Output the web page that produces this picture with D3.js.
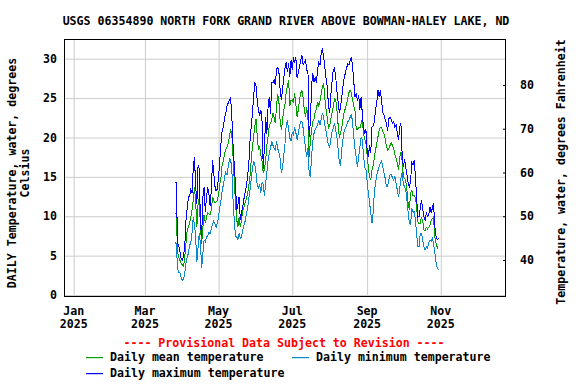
<!DOCTYPE html>
<html>
<head>
<meta charset="utf-8">
<script src="https://cdn.jsdelivr.net/npm/d3@7"></script>
<style>
  body { margin: 0; background: #fff; }
  text { font-family: "DejaVu Sans Mono", monospace; font-weight: bold; font-size: 11.6px; fill: #000; }
</style>
</head>
<body>
<svg id="chart" width="576" height="384"></svg>
<script>
var title = "USGS 06354890 NORTH FORK GRAND RIVER ABOVE BOWMAN-HALEY LAKE, ND";
var leftTitle = ["DAILY Temperature, water, degrees", "Celsius"];
var rightTitle = "Temperature, water, degrees Fahrenheit";
var notice = "---- Provisional Data Subject to Revision ----";

// first day of the daily record, one value per day after that
var startDate = "2025-03-26";

var meanTemp = [
  10.3, 10.4, 5.5, 4.8, 4.4, 4.0, 3.8, 3.6, 4.8, 6.6,
  8.2, 8.7, 9.1, 9.9, 10.8, 12.0, 13.7, 12.0, 8.6, 11.5,
  12.4, 8.5, 6.5, 8.6, 10.2, 9.1, 9.9, 10.4, 10.3, 10.2,
  10.8, 12.4, 12.0, 11.7, 11.8, 12.0,
  12.8, 14.0, 15.0, 16.6, 17.1, 18.0, 18.5, 18.8, 19.3, 20.1,
  21.0, 20.3, 17.5, 14.5, 11.8, 9.6, 8.6, 9.9, 8.6, 9.6,
  10.8, 11.1, 11.7, 12.2, 12.9, 13.8, 15.0, 17.0, 18.8, 20.0,
  21.5, 22.3, 20.2, 18.4, 18.8, 17.8, 17.0,
  15.5, 16.0, 17.1, 19.0, 20.1, 21.5, 21.8, 22.2, 23.1, 22.6, 21.8, 24.0,
  25.5, 24.4, 22.0, 21.0, 22.2, 23.5, 24.2, 25.8, 26.6, 27.3, 24.0, 24.7, 24.8, 24.4, 25.6,
  24.2, 22.6, 23.5, 24.7, 25.6, 26.0, 25.0, 23.5, 22.6, 23.8, 22.6,
  17.5, 19.5, 21.0, 22.0, 22.3, 23.3, 23.6, 24.5, 24.0, 24.6,
  25.6, 26.4, 26.9, 25.0, 23.6, 22.5, 21.2, 21.5, 22.4, 23.1,
  24.0, 24.9, 24.8, 23.5, 21.6, 20.0, 20.6, 21.2, 22.3, 23.2,
  23.7, 24.3, 25.0, 25.7, 26.0, 25.6, 24.7, 24.0, 23.3,
  21.0, 21.0, 21.3, 21.2, 21.8, 22.3, 20.5, 19.8, 19.3, 17.8,
  16.2, 15.0, 14.6, 15.9, 16.4, 17.5, 18.4, 19.3, 20.1, 21.0,
  21.3, 21.2, 20.8, 20.4, 19.8, 18.8, 18.4, 18.6, 19.0, 19.3,
  19.0, 18.6, 17.8, 17.3, 16.8, 15.9, 17.5, 18.2,
  17.0, 15.0, 14.8, 14.5, 13.3, 11.5, 10.8, 12.9, 13.3, 12.6,
  12.6, 12.3, 11.2, 9.3, 9.0, 9.1, 9.9, 9.4, 8.3, 8.1,
  8.6, 8.4, 8.6, 8.9, 9.4, 9.7, 9.9, 7.4, 6.6, 6.1, 5.8
];

var minTemp = [
  6.7, 6.5, 3.5, 2.8, 2.8, 2.2, 1.9, 2.0, 2.8, 4.0,
  4.8, 5.3, 6.3, 6.6, 7.9, 9.9, 9.0, 7.4, 4.2, 6.1,
  7.9, 6.5, 3.4, 5.3, 7.0, 6.8, 7.4, 7.5, 8.0, 7.8,
  8.4, 9.0, 9.4, 9.0, 8.6, 9.2,
  9.9, 11.2, 12.0, 13.3, 14.0, 15.0, 15.6, 15.2, 16.3, 17.3,
  17.2, 15.9, 12.0, 9.5, 7.4, 7.4, 7.0, 7.8, 7.2, 7.4,
  8.3, 8.8, 9.4, 10.2, 11.0, 12.2, 13.3, 14.6, 16.0, 17.0,
  16.5, 15.5, 14.0, 13.6, 14.0, 13.0, 14.3,
  14.0, 12.6, 14.2, 15.6, 17.1, 18.0, 18.6, 19.5, 19.0, 18.6, 18.4, 19.5,
  18.6, 18.0, 17.3, 15.5, 16.2, 17.8, 19.2, 21.6, 22.2, 21.0, 19.9, 19.6, 20.6, 20.3, 21.3,
  20.6, 19.7, 20.5, 21.5, 22.0, 22.0, 21.2, 19.9, 18.6, 17.5, 18.6,
  15.5, 15.0, 17.5, 19.5, 20.5, 21.0, 21.3, 21.6, 22.2, 21.6,
  22.4, 23.1, 22.5, 21.5, 20.8, 19.8, 19.0, 18.8, 19.8, 20.8,
  21.2, 21.8, 21.0, 20.0, 18.5, 16.8, 16.5, 18.5, 19.8, 20.8,
  21.2, 21.5, 22.0, 22.2, 22.6, 23.0, 21.8, 20.0, 18.5,
  17.5, 16.2, 17.6, 18.8, 20.0, 19.7, 17.8, 16.2, 16.0, 14.5,
  13.0, 11.8, 10.4, 9.1, 10.5, 13.0, 14.3, 15.2, 15.8, 16.4,
  16.8, 17.0, 16.2, 15.5, 14.8, 13.8, 13.8, 14.7, 15.3, 15.3,
  14.9, 14.6, 15.0, 14.2, 13.3, 12.4, 13.5, 14.8,
  15.5, 14.0, 13.8, 13.3, 12.0, 10.4, 9.1, 9.0, 11.0, 10.5,
  10.6, 9.5, 7.8, 6.2, 6.2, 7.8, 7.8, 7.0, 6.2, 5.7,
  6.1, 5.9, 6.6, 7.0, 6.8, 7.2, 6.5, 5.5, 4.2, 3.5, 3.2
];

var maxTemp = [
  14.2, 14.3, 6.6, 6.3, 5.5, 4.6, 4.4, 5.0, 6.2, 9.5,
  11.0, 12.4, 12.6, 13.4, 13.0, 16.0, 17.5, 14.0, 11.5, 16.5,
  16.0, 9.0, 7.5, 12.4, 13.7, 10.5, 12.5, 13.7, 12.8, 11.3,
  13.3, 17.1, 15.5, 13.8, 13.2, 13.5,
  15.0, 17.1, 19.3, 21.0, 21.3, 22.6, 23.1, 24.0, 24.4, 24.8,
  25.0, 22.5, 19.0, 16.5, 14.0, 10.8, 11.5, 12.5, 9.5, 10.5,
  11.2, 12.2, 13.0, 13.8, 15.0, 16.5, 19.5, 21.3, 23.0, 25.1,
  27.0, 26.5, 24.7, 23.5, 22.8, 23.5, 22.0,
  16.0, 19.0, 22.6, 20.5, 23.9, 25.1, 23.0, 27.0, 26.9, 27.3, 26.7, 28.7,
  28.9, 28.2, 26.0, 24.7, 26.2, 27.5, 28.8, 29.6, 28.3, 29.4, 27.7, 29.8, 28.6, 30.2, 29.5,
  30.2, 27.5, 28.2, 29.0, 29.8, 30.5, 29.2, 29.5, 29.8, 28.5, 28.5,
  20.0, 22.0, 26.5, 28.2, 27.0, 27.7, 26.9, 28.6, 29.5, 29.2,
  30.7, 31.3, 30.2, 28.9, 27.5, 26.5, 24.0, 23.1, 25.5, 27.2,
  28.6, 28.8, 27.7, 25.8, 24.5, 23.1, 23.9, 25.1, 26.5, 27.5,
  28.2, 28.8, 29.4, 29.2, 29.8, 30.2, 29.0, 27.0, 25.1,
  25.6, 24.7, 25.4, 23.5, 25.1, 23.1, 21.3, 20.5, 21.0, 18.4,
  17.5, 19.0, 18.0, 21.3, 21.5, 22.0, 23.5, 24.5, 26.0, 25.1,
  26.0, 24.5, 23.2, 22.8, 22.2, 21.8, 20.8, 22.4, 22.6, 22.3,
  21.8, 22.0, 21.3, 21.6, 20.6, 19.7, 21.3, 21.8,
  17.8, 16.2, 17.2, 16.2, 15.3, 14.2, 13.6, 14.5, 16.8, 16.5,
  17.1, 15.0, 12.4, 9.9, 10.0, 11.0, 12.0, 11.0, 9.9, 9.5,
  10.4, 10.0, 10.2, 11.2, 10.5, 11.0, 11.7, 8.8, 7.5, 7.0, 7.2
];

var celsiusTicks = [0, 5, 10, 15, 20, 25, 30];
var fahrenheitTicks = [40, 50, 60, 70, 80];
var monthTicks = ["2025-01-01", "2025-03-01", "2025-05-01", "2025-07-01", "2025-09-01", "2025-11-01"];
var monthLabels = ["Jan", "Mar", "May", "Jul", "Sep", "Nov"];

var series = [
  {name: "Daily mean temperature", values: meanTemp, color: "#00a000"},
  {name: "Daily minimum temperature", values: minTemp, color: "#0a88cc"},
  {name: "Daily maximum temperature", values: maxTemp, color: "#0000ff"}
];

var svg = d3.select("#chart");
var plot = {left: 64, right: 506, top: 39, bottom: 297};

var parse = d3.timeParse("%Y-%m-%d");
var start = parse(startDate);
function dayDate(i) { return d3.timeDay.offset(start, i); }

var x = d3.scaleTime()
  .domain([new Date(2024, 11, 24), new Date(2025, 11, 25)])
  .range([plot.left, plot.right]);
var y = d3.scaleLinear()
  .domain([-0.25, 32.5])
  .range([plot.bottom, plot.top]);
var yF = d3.scaleLinear()
  .domain(y.domain().map(function(c) { return c * 9 / 5 + 32; }))
  .range([plot.bottom, plot.top]);

// title
svg.append("text")
  .attr("x", 286).attr("y", 25)
  .attr("text-anchor", "middle")
  .text(title);

// vertical grid
var xGrid = svg.append("g")
  .attr("transform", "translate(0," + plot.bottom + ")")
  .call(d3.axisBottom(x)
    .tickValues(monthTicks.map(parse))
    .tickSize(-(plot.bottom - plot.top))
    .tickFormat(""));
xGrid.select(".domain").remove();
xGrid.selectAll("line").attr("stroke", "#cccccc");

// horizontal grid + celsius labels
var yAxis = svg.append("g")
  .attr("transform", "translate(" + plot.left + ",0)")
  .call(d3.axisLeft(y)
    .tickValues(celsiusTicks)
    .tickSize(-(plot.right - plot.left))
    .tickPadding(7)
    .tickFormat(d3.format("d")));
yAxis.select(".domain").remove();
yAxis.selectAll("line").attr("stroke", "#cccccc");
yAxis.selectAll("text").attr("font-size", null).attr("font-family", null);

// fahrenheit axis on the right
var fAxis = svg.append("g")
  .attr("transform", "translate(" + plot.right + ",0)")
  .call(d3.axisRight(yF)
    .tickValues(fahrenheitTicks)
    .tickSize(-3)
    .tickPadding(14)
    .tickFormat(d3.format("d")));
fAxis.select(".domain").remove();
fAxis.selectAll("line").attr("stroke", "#000");
fAxis.selectAll("text").attr("font-size", null).attr("font-family", null);

// month labels
var months = svg.append("g");
months.selectAll("text.mon")
  .data(monthTicks)
  .enter().append("text")
  .attr("class", "mon")
  .attr("x", function(d) { return x(parse(d)); })
  .attr("y", 315)
  .attr("text-anchor", "middle")
  .text(function(d, i) { return monthLabels[i]; });
months.selectAll("text.yr")
  .data(monthTicks)
  .enter().append("text")
  .attr("class", "yr")
  .attr("x", function(d) { return x(parse(d)); })
  .attr("y", 328)
  .attr("text-anchor", "middle")
  .text(function(d) { return d.slice(0, 4); });

// data lines
var line = d3.line()
  .x(function(d, i) { return x(dayDate(i)); })
  .y(function(d) { return y(d); });

svg.append("g").selectAll("path")
  .data(series)
  .enter().append("path")
  .attr("d", function(s) { return line(s.values); })
  .attr("fill", "none")
  .attr("stroke", function(s) { return s.color; })
  .attr("stroke-width", 1)
  .attr("shape-rendering", "crispEdges");

// plot border
svg.append("rect")
  .attr("x", plot.left + 0.5).attr("y", plot.top + 0.5)
  .attr("width", plot.right - plot.left - 1)
  .attr("height", plot.bottom - plot.top - 1)
  .attr("fill", "none")
  .attr("stroke", "#000");

// axis titles
svg.append("text")
  .attr("transform", "translate(16," + 173 + ") rotate(-90)")
  .attr("text-anchor", "middle")
  .text(leftTitle[0]);
svg.append("text")
  .attr("transform", "translate(29," + 173 + ") rotate(-90)")
  .attr("text-anchor", "middle")
  .text(leftTitle[1]);
svg.append("text")
  .attr("transform", "translate(565," + 172 + ") rotate(-90)")
  .attr("text-anchor", "middle")
  .text(rightTitle);

// provisional notice
svg.append("text")
  .attr("x", 284).attr("y", 347)
  .attr("text-anchor", "middle")
  .style("fill", "#ff0000")
  .text(notice);

// legend
var legendPos = [[86, 357], [292, 357], [86, 373]];
var legend = svg.append("g").selectAll("g")
  .data(series)
  .enter().append("g")
  .attr("transform", function(d, i) { return "translate(" + legendPos[i][0] + "," + legendPos[i][1] + ")"; });
legend.append("rect")
  .attr("x", 0).attr("y", 0)
  .attr("width", 17).attr("height", 1.2)
  .attr("fill", function(d) { return d.color; });
legend.append("text")
  .attr("x", 24).attr("y", 4)
  .text(function(d) { return d.name; });
</script>
</body>
</html>
